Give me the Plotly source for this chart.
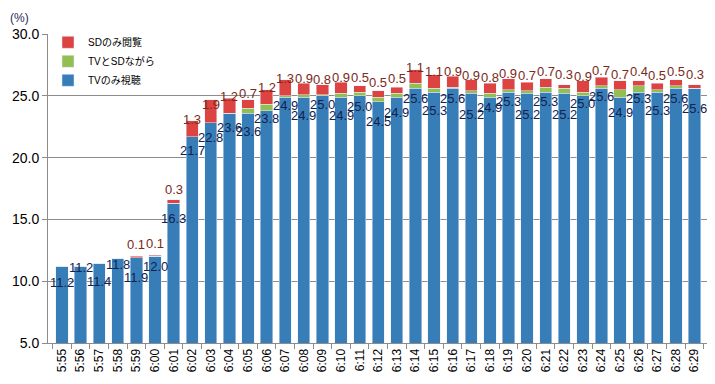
import plotly.graph_objects as go

times = ["5:55", "5:56", "5:57", "5:58", "5:59", "6:00", "6:01", "6:02", "6:03", "6:04",
         "6:05", "6:06", "6:07", "6:08", "6:09", "6:10", "6:11", "6:12", "6:13", "6:14",
         "6:15", "6:16", "6:17", "6:18", "6:19", "6:20", "6:21", "6:22", "6:23", "6:24",
         "6:25", "6:26", "6:27", "6:28", "6:29"]

tv_only = [11.2, 11.2, 11.4, 11.8, 11.9, 12.0, 16.3, 21.7, 22.8, 23.6,
           23.6, 23.8, 24.9, 24.9, 25.0, 24.9, 25.0, 24.5, 24.9, 25.6,
           25.3, 25.6, 25.2, 24.9, 25.3, 25.2, 25.3, 25.2, 25.0, 25.6,
           24.9, 25.3, 25.3, 25.6, 25.6]

tv_and_sd = [0, 0, 0, 0, 0, 0, 0, 0, 0, 0,
             0.4, 0.5, 0.1, 0.2, 0.1, 0.3, 0.3, 0.4, 0.3, 0.4,
             0.3, 0.1, 0.2, 0.3, 0.2, 0.2, 0.4, 0.4, 0.3, 0.2,
             0.6, 0.5, 0.2, 0.2, 0.0]

sd_only = [0, 0, 0, 0, 0.1, 0.1, 0.3, 1.3, 1.9, 1.2,
           0.7, 1.2, 1.3, 0.9, 0.8, 0.9, 0.5, 0.5, 0.5, 1.1,
           1.1, 0.9, 0.9, 0.8, 0.9, 0.7, 0.7, 0.3, 0.9, 0.7,
           0.7, 0.4, 0.5, 0.5, 0.3]

y_ticks = [5, 10, 15, 20, 25, 30]

# styling: how far (px) each blue value label sits below the top of its blue bar
blue_label_drop = [16, 1, 18, 6, 20, 10, 15, 14, 15, 14,
                   18, 8, 8, 18, 9, 18, 11, 20, 15, 10,
                   18, 10, 21, 10, 9, 21, 9, 21, 8, 8,
                   15, 6, 18, 10, 20]

BLUE = "#377EB8"
GREEN = "#93BE52"
RED = "#DC4341"
FONT = "Liberation Sans, Arial, Noto Sans CJK JP, sans-serif"

fig = go.Figure()
fig.add_trace(go.Bar(x=times, y=tv_only, name="TVのみ視聴", marker_color=BLUE))
fig.add_trace(go.Bar(x=times, y=tv_and_sd, name="TVとSDながら", marker_color=GREEN))
fig.add_trace(go.Bar(x=times, y=sd_only, name="SDのみ閲覧", marker_color=RED))

annotations = []
for i, t in enumerate(times):
    annotations.append(dict(
        x=t, y=tv_only[i], xref="x", yref="y", text=f"{tv_only[i]:.1f}",
        showarrow=False, yshift=-blue_label_drop[i],
        font=dict(family=FONT, size=13, color="#12224F")))
    if sd_only[i] > 0:
        top = tv_only[i] + tv_and_sd[i] + sd_only[i]
        annotations.append(dict(
            x=t, y=top - 0.75 * sd_only[i], xref="x", yref="y", text=f"{sd_only[i]:.1f}",
            showarrow=False, yshift=13,
            font=dict(family=FONT, size=13, color="#7A2A20")))

annotations.append(dict(x=0, y=1, xref="paper", yref="paper", xanchor="left", yanchor="top",
                        text="(%)", showarrow=False, xshift=-40, yshift=25,
                        font=dict(family=FONT, size=12, color="#1F2D5A")))

fig.update_layout(
    width=707, height=376,
    margin=dict(l=40, r=6, t=26, b=41, autoexpand=False),
    barmode="stack", bargap=0.34,
    plot_bgcolor="white", paper_bgcolor="white",
    font=dict(family=FONT, color="#000000"),
    showlegend=True,
    legend=dict(x=0.0, y=1.02, xanchor="left", yanchor="top", traceorder="reversed",
                bgcolor="rgba(255,255,255,0)", font=dict(family=FONT, size=10, color="#000000"),
                itemwidth=30, tracegroupgap=0),
    annotations=annotations,
)
fig.update_yaxes(range=[5, 30], tickvals=y_ticks, ticktext=[f"{v:.1f}" for v in y_ticks],
                 showgrid=True, gridcolor="#8C8C8C", gridwidth=1,
                 showline=True, linecolor="#8C8C8C", linewidth=1,
                 ticks="outside", ticklen=5, tickcolor="#8C8C8C", automargin=False,
                 tickfont=dict(family=FONT, size=14, color="#000000"), zeroline=False)
fig.update_xaxes(type="category", tickangle=-90, showline=True, linecolor="#8C8C8C", linewidth=1,
                 ticks="outside", ticklen=5, tickcolor="#8C8C8C", tickson="boundaries",
                 automargin=False,
                 tickfont=dict(family=FONT, size=12, color="#000000"))

fig.write_html("out.html")
